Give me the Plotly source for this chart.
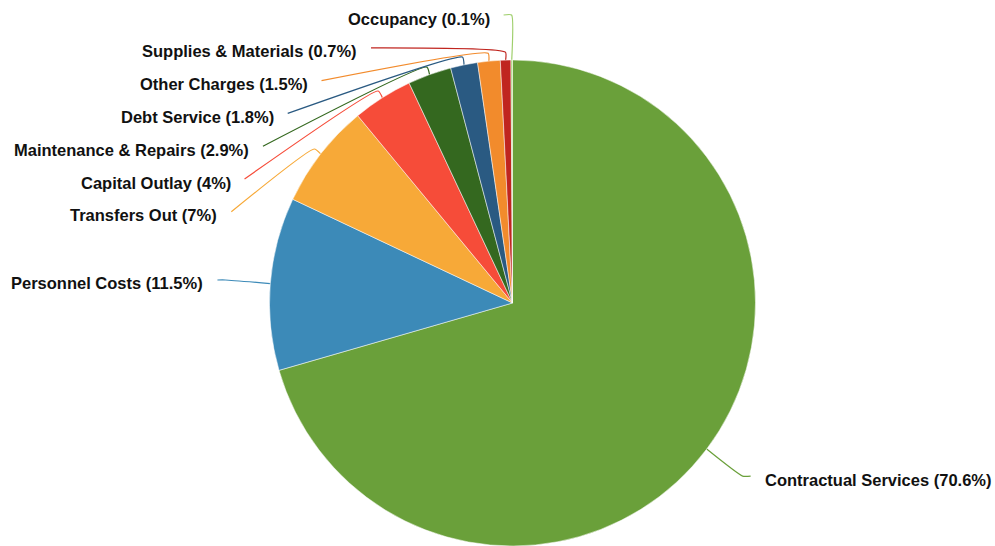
import math
import plotly.graph_objects as go

categories = ["Contractual Services", "Personnel Costs", "Transfers Out", "Capital Outlay",
              "Maintenance & Repairs", "Debt Service", "Other Charges",
              "Supplies & Materials", "Occupancy"]
values = [70.6, 11.5, 7, 4, 2.9, 1.8, 1.5, 0.7, 0.1]
colors = ["#6aa03a", "#3c8ab8", "#f7a938", "#f64c39", "#34681f", "#2a5a82",
          "#f28b2c", "#c0251f", "#9fcf6c"]

W, H = 995, 546
CX, CY, R = 512.5, 303.0, 243.0
RL = 288.0          # label circle radius
SPACING = 32.8      # min vertical spacing between labels
TOP = 15.0

labels = [f"{c} ({v:g}%)" for c, v in zip(categories, values)]

fig = go.Figure()
fig.add_trace(go.Pie(
    labels=categories, values=values, sort=False, direction="clockwise", rotation=0,
    marker=dict(colors=colors, line=dict(color="white", width=0.5)),
    textinfo="none", hoverinfo="label+percent", showlegend=False,
    domain=dict(x=[(CX - R) / W, (CX + R) / W], y=[max((H - CY - R) / H, 0), (H - CY + R) / H]),
))

total = sum(values)
mids = []
acc = 0.0
for v in values:
    mids.append((acc + v / 2) / total * 2 * math.pi)
    acc += v

items = []
for i, a in enumerate(mids):
    side = 1 if math.sin(a) >= 0 else -1
    ny = CY - RL * math.cos(a)
    items.append(dict(i=i, a=a, side=side, ny=ny, y=max(ny, TOP)))

for side in (-1, 1):
    grp = sorted([it for it in items if it["side"] == side], key=lambda d: d["y"])
    prev = None
    for it in grp:
        if prev is not None and it["y"] < prev + SPACING:
            it["y"] = prev + SPACING
        prev = it["y"]

for it in items:
    a, side, y = it["a"], it["side"], it["y"]
    pushed = abs(it["ny"] - y) > 1.0
    p0 = (CX + R * math.sin(a), CY - R * math.cos(a))
    if pushed:
        dy = y - CY
        lx = CX + side * math.sqrt(max(RL ** 2 - dy ** 2, 0))
        p1 = (CX + (R + 8) * math.sin(a), CY - (R + 8) * math.cos(a))
    else:
        lx = CX + RL * math.sin(a)
        p1 = (lx, y)
    ex = lx + side * 8
    fig.add_trace(go.Scatter(
        x=[p0[0], p1[0], ex], y=[p0[1], p1[1], y], mode="lines",
        line=dict(color=colors[it["i"]], width=1.2, shape="spline", smoothing=0.5),
        hoverinfo="skip", showlegend=False, xaxis="x", yaxis="y"))
    fig.add_annotation(
        x=ex + side * 12, y=y + 3.5, xref="x", yref="y", text=f"<b>{labels[it['i']]}</b>",
        showarrow=False, xanchor="left" if side > 0 else "right", yanchor="middle",
        font=dict(family="Liberation Sans, Arial, sans-serif", size=16.5, color="#111111"),
    )

fig.update_layout(
    width=W, height=H, margin=dict(l=0, r=0, t=0, b=0),
    paper_bgcolor="white", plot_bgcolor="rgba(0,0,0,0)",
    xaxis=dict(range=[0, W], visible=False, fixedrange=True, domain=[0, 1]),
    yaxis=dict(range=[H, 0], visible=False, fixedrange=True, domain=[0, 1]),
    font=dict(family="Liberation Sans, Arial, sans-serif"),
)

fig.write_html("out.html")
